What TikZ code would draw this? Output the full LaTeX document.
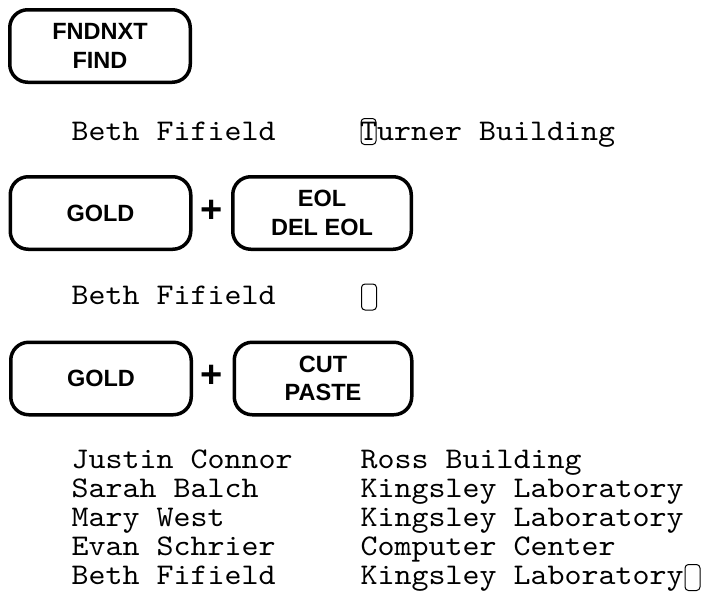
\documentclass[tikz,border=0pt]{standalone}
\usepackage{fontspec}
\newfontfamily\keyfont{Liberation Sans}
\newfontfamily\listmono{lmmono10-regular.otf}[FakeStretch=1.079]
\begin{document}
\begin{tikzpicture}[x=1pt,y=-1pt,
  key/.style={draw, line width=3.5pt, rounded corners=18pt, minimum width=180.5pt, minimum height=72.5pt, align=center, inner sep=0pt, font=\keyfont\bfseries\fontsize{23.5}{28.5}\selectfont},
  mono/.style={anchor=base west, inner sep=0pt, align=left, font=\listmono\fontsize{30}{29}\selectfont},
  cursor/.style={draw, line width=1pt, rounded corners=3.5pt, minimum width=15pt, minimum height=26pt, inner sep=0pt},
  plus/.style={inner sep=0pt, font=\keyfont\bfseries\fontsize{38}{38}\selectfont}]
\path[use as bounding box] (0,0) rectangle (703,592);

% key 1
\node[key] (k1) at (100,46) {FNDNXT\\FIND};

% row 1
\node[mono] (r1n) at (71.5,140) {Beth Fifield};
\node[cursor] (c1) at (368.5,131.5) {};
\node[mono] (r1b) at (360,140) {Turner Building};

% key row 2
\node[key] (g1) at (100.5,213) {GOLD};
\node[plus] (p1) at (212,211) {+};
\node[key, minimum width=178.5pt] (e1) at (322,213) {EOL\\DEL EOL};

% row 2
\node[mono] (r2n) at (71.5,304) {Beth Fifield};
\node[cursor] (c2) at (369,297) {};

% key row 3
\node[key] (g2) at (101,378.5) {GOLD};
\node[plus] (p2) at (212,376) {+};
\node[key, minimum width=177.5pt] (e2) at (323,378.5) {CUT\\PASTE};

% list (base anchor = baseline of the last line)
\node[mono] (names) at (71.5,584.5) {Justin Connor\\Sarah Balch\\Mary West\\Evan Schrier\\Beth Fifield};
\node[mono] (bldgs) at (360.5,584.5) {Ross Building\\Kingsley Laboratory\\Kingsley Laboratory\\Computer Center\\Kingsley Laboratory};
\node[cursor] (c3) at (692.5,577.5) {};
\end{tikzpicture}
\end{document}
